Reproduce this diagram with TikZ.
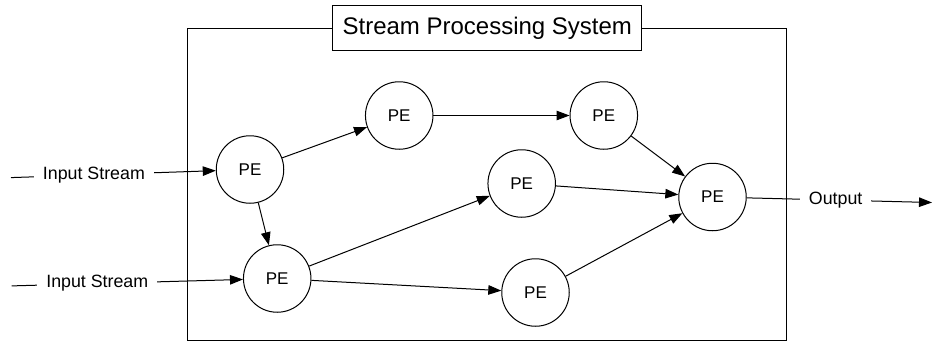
\documentclass[tikz,border=0pt]{standalone}
\usepackage{fontspec}
\setmainfont{Liberation Sans}
\usetikzlibrary{arrows.meta}
\begin{document}
\begin{tikzpicture}[x=1pt,y=-1pt,
  pe/.style={draw,circle,line width=1pt,minimum size=67.5pt,inner sep=0pt,font=\fontsize{17}{17}\selectfont},
  conn/.style={line width=1pt,-{Triangle[length=13pt,width=9.5pt]}},
  lbl/.style={fill=white,inner xsep=9pt,inner ysep=2pt,font=\fontsize{17.8}{18}\selectfont}]
\useasboundingbox (0,0) rectangle (932,343);
% outer system box
\node[draw,line width=1pt,minimum width=598.7pt,minimum height=312pt,inner sep=0pt] (sys) at (487.3,184.5) {};
\node[draw,fill=white,line width=1pt,minimum width=309pt,minimum height=45.7pt,inner sep=0pt,font=\fontsize{24}{24}\selectfont] (title) at (487.3,27.9) {Stream Processing System};
% processing elements
\node[pe] (p1) at (250,169.5) {PE};
\node[pe] (p2) at (277.2,278.5) {PE};
\node[pe] (pa) at (399.2,115.5) {PE};
\node[pe] (pb) at (603.8,115.5) {PE};
\node[pe] (pc) at (521.7,183.5) {PE};
\node[pe] (pe) at (535.5,292.5) {PE};
\node[pe] (pd) at (712.5,197) {PE};
% free ends
\coordinate (in1) at (11,177.6);
\coordinate (in2) at (11.7,285.9);
\coordinate (out) at (932,202.5);
% inputs and output
\draw[conn] (in1) -- node[lbl,pos=0.405] (l1) {Input Stream} (p1);
\draw[conn] (in2) -- node[lbl,pos=0.37] (l2) {Input Stream} (p2);
\draw[conn] (pd) -- node[lbl,pos=0.48] (l3) {Output} (out);
% internal connectors
\draw[conn] (p1) -- (pa);
\draw[conn] (p1) -- (p2);
\draw[conn] (p2) -- (pc);
\draw[conn] (p2) -- (pe);
\draw[conn] (pa) -- (pb);
\draw[conn] (pb) -- (pd);
\draw[conn] (pc) -- (pd);
\draw[conn] (pe) -- (pd);
\end{tikzpicture}
\end{document}
